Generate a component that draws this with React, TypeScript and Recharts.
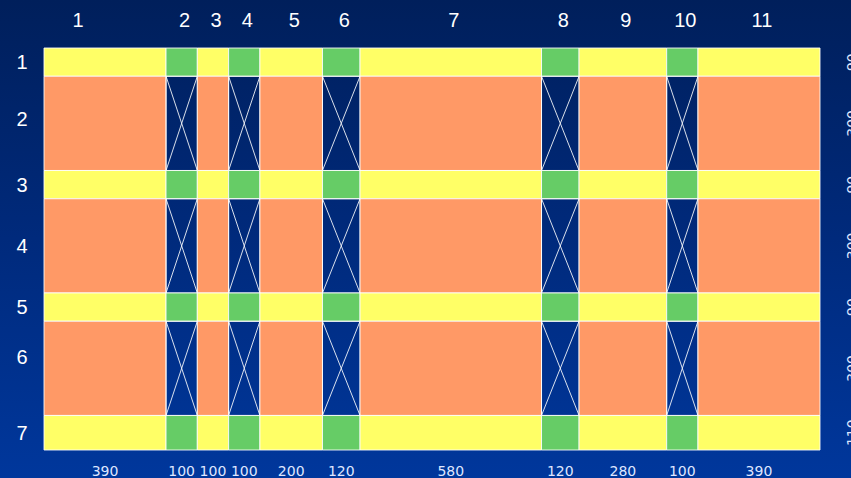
import React from 'react';
import { ComposedChart, XAxis, YAxis, ReferenceArea, ReferenceLine } from 'recharts';

// ---- data ----
const columnLabels = ['1', '2', '3', '4', '5', '6', '7', '8', '9', '10', '11'];
const columnWidths = [390, 100, 100, 100, 200, 120, 580, 120, 280, 100, 390];
const rowLabels = ['1', '2', '3', '4', '5', '6', '7'];
const rowHeights = [90, 300, 90, 300, 90, 300, 110];

// ---- derived ----
const starts = (arr: number[]) => {
  const out: number[] = [];
  let acc = 0;
  arr.forEach((v) => {
    out.push(acc);
    acc += v;
  });
  return out;
};
const colStarts = starts(columnWidths);
const rowStarts = starts(rowHeights);
const totalW = columnWidths.reduce((a, b) => a + b, 0);
const totalH = rowHeights.reduce((a, b) => a + b, 0);
const colCenters = colStarts.map((s, i) => s + columnWidths[i] / 2);
const rowCenters = rowStarts.map((s, i) => s + rowHeights[i] / 2);

const YELLOW = '#ffff66';
const GREEN = '#66cc66';
const ORANGE = '#ff9966';

type Cell = { x1: number; x2: number; y1: number; y2: number; kind: 'yellow' | 'green' | 'orange' | 'cross' };
const cells: Cell[] = [];
rowHeights.forEach((h, i) => {
  columnWidths.forEach((w, j) => {
    const narrowRow = i % 2 === 0;
    const evenCol = j % 2 === 1;
    const kind = narrowRow ? (evenCol ? 'green' : 'yellow') : evenCol ? 'cross' : 'orange';
    cells.push({ x1: colStarts[j], x2: colStarts[j] + w, y1: rowStarts[i], y2: rowStarts[i] + h, kind });
  });
});

const fillOf = (k: Cell['kind']) => (k === 'yellow' ? YELLOW : k === 'green' ? GREEN : k === 'orange' ? ORANGE : 'none');

// label nudges (pixels)
const topNudge: Record<number, number> = { 0: -30 };
const leftNudge: Record<number, number> = { 1: -4, 5: -11 };

const TopTick = (props: any) => {
  const { x, index } = props;
  const dx = (topNudge[index] ?? 0) + 3;
  return (
    <text x={x + dx} y={27} textAnchor="middle" fill="#ffffff" fontSize={20} fontFamily="'Liberation Sans', Arial, sans-serif">
      {columnLabels[index]}
    </text>
  );
};

const BottomTick = (props: any) => {
  const { x, index } = props;
  return (
    <text x={x} y={476} textAnchor="middle" fill="#dfe6ff" fontSize={14} fontFamily="'DejaVu Sans', Verdana, sans-serif">
      {columnWidths[index]}
    </text>
  );
};

const LeftTick = (props: any) => {
  const { y, index } = props;
  const dy = leftNudge[index] ?? 0;
  return (
    <text x={22} y={y + 7 + dy} textAnchor="middle" fill="#ffffff" fontSize={20} fontFamily="'Liberation Sans', Arial, sans-serif">
      {rowLabels[index]}
    </text>
  );
};

const RightTick = (props: any) => {
  const { y, index } = props;
  const tx = 857;
  return (
    <text
      x={tx}
      y={y}
      transform={`rotate(-90 ${tx} ${y})`}
      textAnchor="middle"
      fill="#dfe6ff"
      fontSize={14}
      fontFamily="'DejaVu Sans', Verdana, sans-serif"
    >
      {rowHeights[index]}
    </text>
  );
};

export default function App() {
  return (
    <div
      style={{
        position: 'fixed',
        left: 0,
        top: 0,
        width: 851,
        height: 478,
        overflow: 'hidden',
        background: 'linear-gradient(180deg, #001f5b 0%, #002a7c 50%, #00379c 100%)',
      }}
    >
      <ComposedChart width={851} height={478} data={[]} margin={{ top: 0, right: 0, bottom: 0, left: 0 }}>
        <XAxis
          xAxisId="top"
          orientation="top"
          type="number"
          dataKey="x"
          domain={[0, totalW]}
          ticks={colCenters}
          interval={0}
          height={48}
          axisLine={false}
          tickLine={false}
          tick={<TopTick />}
          allowDataOverflow
        />
        <XAxis
          xAxisId="bottom"
          orientation="bottom"
          type="number"
          dataKey="x"
          domain={[0, totalW]}
          ticks={colCenters}
          interval={0}
          height={28}
          axisLine={false}
          tickLine={false}
          tick={<BottomTick />}
          allowDataOverflow
        />
        <YAxis
          yAxisId="left"
          orientation="left"
          type="number"
          dataKey="y"
          domain={[0, totalH]}
          reversed
          ticks={rowCenters}
          interval={0}
          width={44}
          axisLine={false}
          tickLine={false}
          tick={<LeftTick />}
          allowDataOverflow
        />
        <YAxis
          yAxisId="right"
          orientation="right"
          type="number"
          dataKey="y"
          domain={[0, totalH]}
          reversed
          ticks={rowCenters}
          interval={0}
          width={31}
          axisLine={false}
          tickLine={false}
          tick={<RightTick />}
          allowDataOverflow
        />
        {cells.map((c, i) => (
          <ReferenceArea
            key={`c${i}`}
            xAxisId="bottom"
            yAxisId="left"
            x1={c.x1}
            x2={c.x2}
            y1={c.y1}
            y2={c.y2}
            fill={fillOf(c.kind)}
            fillOpacity={1}
            stroke="#ffffff"
            strokeOpacity={0.85}
            strokeWidth={1}
            ifOverflow="visible"
          />
        ))}
        {cells
          .filter((c) => c.kind === 'cross')
          .map((c, i) => (
            <React.Fragment key={`x${i}`}>
              <ReferenceLine
                xAxisId="bottom"
                yAxisId="left"
                segment={[
                  { x: c.x1, y: c.y1 },
                  { x: c.x2, y: c.y2 },
                ]}
                stroke="#ffffff"
                strokeOpacity={0.85}
                strokeWidth={1}
                ifOverflow="visible"
              />
              <ReferenceLine
                xAxisId="bottom"
                yAxisId="left"
                segment={[
                  { x: c.x2, y: c.y1 },
                  { x: c.x1, y: c.y2 },
                ]}
                stroke="#ffffff"
                strokeOpacity={0.85}
                strokeWidth={1}
                ifOverflow="visible"
              />
            </React.Fragment>
          ))}
      </ComposedChart>
    </div>
  );
}
